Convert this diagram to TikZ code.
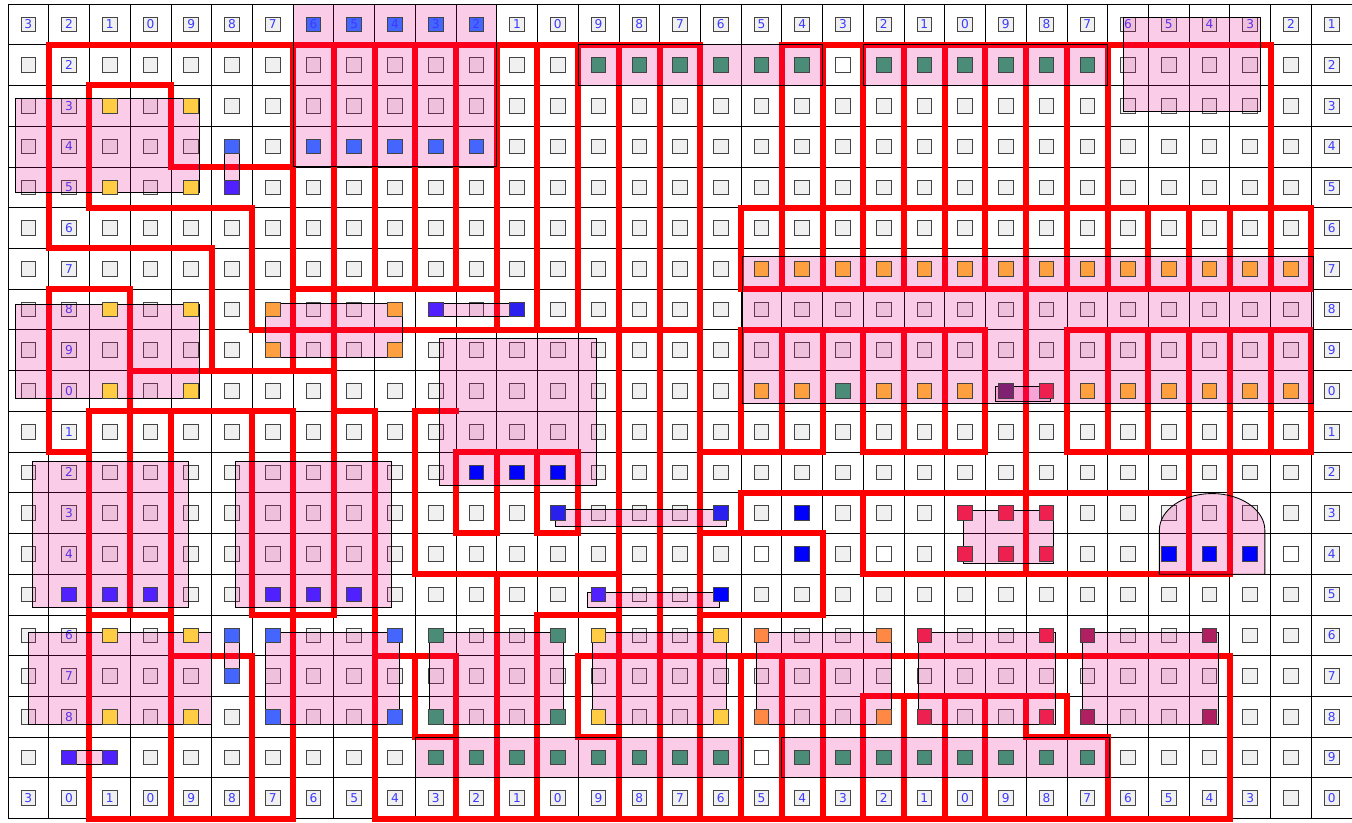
\documentclass[tikz,border=0pt]{standalone}
\usepackage{fontspec}
\setmainfont{DejaVu Sans}
\definecolor{padgray}{HTML}{F0F0F0}
\definecolor{padedge}{HTML}{444444}
\definecolor{padblue}{HTML}{4466FF}
\definecolor{padviolet}{HTML}{5020FF}
\definecolor{padyellow}{HTML}{FFCC44}
\definecolor{padorange}{HTML}{FFA040}
\definecolor{padcoral}{HTML}{FF8844}
\definecolor{padteal}{HTML}{4A8C78}
\definecolor{padpure}{HTML}{0000FF}
\definecolor{padcrimson}{HTML}{EE2050}
\definecolor{padplum}{HTML}{802070}
\definecolor{padberry}{HTML}{B02060}
\definecolor{paddeep}{HTML}{2A20EE}
\definecolor{lbltext}{HTML}{3B3BFF}
\begin{document}
\begin{tikzpicture}[x=1cm, y=-1cm,
  cell/.style={draw=black, line width=0.5pt},
  pad/.style={draw=padedge, fill=padgray, line width=0.6pt, minimum size=0.36cm, inner sep=0pt},
  lbl/.style={text=lbltext, font=\fontsize{8.5}{8.5}\selectfont, inner sep=0pt},
  region/.style={draw=red, line width=4.2pt, line cap=rect},
  block/.style={draw=black, line width=0.6pt, fill=magenta, fill opacity=0.2}]
\useasboundingbox (-0.196,-0.098) rectangle (33,20.098);

% grid of tiles
\draw[cell] (0,0) grid (33,20);
\foreach \c in {0,...,32}
  \foreach \r in {0,...,19}
    \node[pad] (p-\c-\r) at (\c+.5,\r+.5) {};
\foreach \c/\r in {20/1, 18/13, 21/13, 31/13, 18/18}
  \node[pad, fill=white] at (p-\c-\r) {};

% border numbers
\foreach \c in {0,...,6,12,13,...,32} {
  \pgfmathtruncatemacro\d{mod(33-\c,10)}
  \node[lbl] (top-\c) at (p-\c-0) {\d};
}
\foreach \c in {0,2,3,...,30} {
  \pgfmathtruncatemacro\d{mod(33-\c,10)}
  \node[lbl] (bot-\c) at (p-\c-19) {\d};
}
\node[lbl] (bot-1) at (p-1-19) {0};
\node[lbl] (bot-32) at (p-32-19) {0};
\foreach \r in {1,...,18} {
  \pgfmathtruncatemacro\d{mod(\r+1,10)}
  \node[lbl] (rgt-\r) at (p-32-\r) {\d};
}
\foreach \r in {1,...,13,15,16,17} {
  \pgfmathtruncatemacro\d{mod(\r+1,10)}
  \node[lbl] (lft-\r) at (p-1-\r) {\d};
}

% region outlines
\draw[region] (2,2) -- (4,2) -- (4,4) -- (7,4) -- (7,8) -- (6,8) -- (6,5) -- (2,5) -- cycle;
\foreach \xa/\ya/\xb/\yb in {1/1/17/1, 19/1/31/1, 1/1/1/6, 1/6/5/6, 5/6/5/9,
    7/1/7/9, 8/1/8/15, 9/1/9/7, 10/1/10/7, 11/1/11/7, 7/7/12/7, 12/1/12/8, 13/1/13/8, 14/1/14/8, 7/8/17/8,
    15/1/15/20, 16/1/16/20, 17/1/17/20,
    19/1/19/5, 20/1/20/5, 21/1/21/5, 22/1/22/5, 23/1/23/5, 24/1/24/5, 25/1/25/5, 26/1/26/5, 27/1/27/5, 31/1/31/5,
    18/5/32/5, 18/7/32/7, 18/8/24/8, 26/8/32/8, 25/5/25/14,
    17/11/20/11, 21/11/24/11, 26/11/32/11,
    18/12/18/13, 18/12/29/12, 17/13/20/13, 20/13/20/15, 17/15/20/15,
    21/12/21/14, 21/14/30/14, 29/11/29/14, 30/11/30/14,
    1/7/3/7, 1/7/1/11, 1/11/2/11, 3/7/3/10, 3/9/8/9,
    2/10/7/10, 8/10/9/10, 2/10/2/20, 3/10/3/15, 4/10/4/20, 6/10/6/15, 7/10/7/20, 9/10/9/20,
    2/15/4/15, 6/15/8/15, 4/16/6/16, 6/16/6/20, 2/20/7/20,
    10/10/11/10, 10/10/10/14, 10/14/15/14, 11/11/14/11, 11/11/11/13, 12/11/12/13, 13/11/13/13, 14/11/14/13,
    11/13/12/13, 13/13/14/13, 12/14/12/20, 13/15/15/15, 13/15/13/20,
    9/16/11/16, 10/16/10/18, 10/18/11/18, 11/16/11/20, 14/16/14/18, 14/18/15/18,
    14/16/30/16, 18/16/18/20, 19/16/19/20, 20/16/20/20, 21/17/26/17,
    21/17/21/20, 22/17/22/20, 23/17/23/20, 24/17/24/20, 25/17/25/18, 26/17/26/18, 25/18/27/18,
    27/18/27/20, 30/16/30/20, 9/20/30/20}
  \draw[region] (\xa,\ya) -- (\xb,\yb);
\foreach \x in {18,...,32}
  \draw[region] (\x,5) -- (\x,7);
\foreach \x in {18,...,24,26,27,...,32}
  \draw[region] (\x,8) -- (\x,11);

% placed blocks
\foreach \xa/\ya/\xb/\yb in {7/0/12/4, 14/1/20/2, 21/1/27/2, 27.38/0.32/30.74/2.65,
    0.19/2.32/4.7/4.63, 5.32/3.32/5.68/4.68, 0.19/7.38/4.7/9.68, 6.33/7.35/9.69/8.68,
    10.34/7.34/12.69/7.68, 10.59/8.2/14.44/11.82, 18.03/6.19/32.05/9.81, 24.24/9.4/25.6/9.75,
    0.6/11.22/4.44/14.82, 5.59/11.22/9.42/14.82, 13.43/12.42/17.63/12.83, 14.22/14.44/17.48/14.81,
    23.46/12.43/25.66/13.73, 0.5/15.43/5/17.7, 5.32/15.35/5.68/16.68,
    6.33/15.43/9.62/17.7, 10.34/15.43/13.64/17.7, 14.34/15.43/17.64/17.7, 18.37/15.43/21.7/17.7,
    22.36/15.43/25.72/17.7, 26.37/15.43/29.73/17.7, 10/18/18/19, 19/18/27.05/19, 1.32/18.32/2.68/18.68}
  \path[block] (\xa,\ya) rectangle (\xb,\yb);
\path[block] (28.27,14) -- (28.27,12.92) arc[start angle=180, end angle=360, x radius=1.295, y radius=0.9] -- (30.86,14) -- cycle;

% coloured pads
\foreach \c/\r/\k in {7/0/padblue, 8/0/padblue, 9/0/padblue, 10/0/padblue, 11/0/padblue,
    7/3/padblue, 8/3/padblue, 9/3/padblue, 10/3/padblue, 11/3/padblue, 5/3/padblue, 5/4/padviolet,
    2/2/padyellow, 4/2/padyellow, 2/4/padyellow, 4/4/padyellow,
    2/7/padyellow, 4/7/padyellow, 2/9/padyellow, 4/9/padyellow,
    6/7/padorange, 9/7/padorange, 6/8/padorange, 9/8/padorange,
    10/7/padviolet, 12/7/paddeep,
    11/11/padpure, 12/11/padpure, 13/11/padpure, 13/12/paddeep, 17/12/paddeep,
    19/12/padpure, 19/13/padpure, 28/13/padpure, 29/13/padpure, 30/13/padpure,
    23/12/padcrimson, 24/12/padcrimson, 25/12/padcrimson,
    23/13/padcrimson, 24/13/padcrimson, 25/13/padcrimson,
    1/14/padviolet, 2/14/padviolet, 3/14/padviolet, 6/14/padviolet, 7/14/padviolet, 8/14/padviolet,
    14/14/padviolet, 17/14/padpure,
    20/9/padteal, 24/9/padplum, 25/9/padcrimson,
    2/15/padyellow, 4/15/padyellow, 2/17/padyellow, 4/17/padyellow,
    5/15/padblue, 5/16/padblue,
    6/15/padblue, 9/15/padblue, 6/17/padblue, 9/17/padblue,
    10/15/padteal, 13/15/padteal, 10/17/padteal, 13/17/padteal,
    14/15/padyellow, 17/15/padyellow, 14/17/padyellow, 17/17/padyellow,
    18/15/padcoral, 21/15/padcoral, 18/17/padcoral, 21/17/padcoral,
    22/15/padcrimson, 25/15/padcrimson, 22/17/padcrimson, 25/17/padcrimson,
    26/15/padberry, 29/15/padberry, 26/17/padberry, 29/17/padberry,
    1/18/padviolet, 2/18/padviolet}
  \node[pad, fill=\k] at (p-\c-\r) {};
\foreach \c in {14,...,19,21,22,...,26}
  \node[pad, fill=padteal] at (p-\c-1) {};
\foreach \c in {10,...,17,19,20,...,26}
  \node[pad, fill=padteal] at (p-\c-18) {};
\foreach \c in {18,...,31}
  \node[pad, fill=padorange] at (p-\c-6) {};
\foreach \c in {18,19,21,22,23,26,27,...,31}
  \node[pad, fill=padorange] at (p-\c-9) {};
\foreach \c in {7,...,11} {
  \pgfmathtruncatemacro\d{mod(33-\c,10)}
  \node[lbl] (top-\c) at (p-\c-0) {\d};
}
\end{tikzpicture}
\end{document}
